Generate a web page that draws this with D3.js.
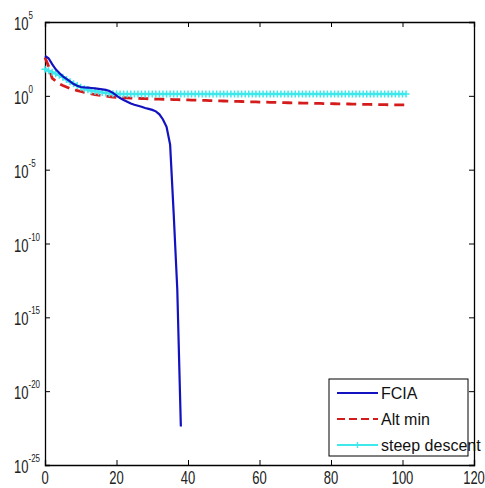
<!DOCTYPE html>
<html>
<head>
<meta charset="utf-8">
<script src="https://cdn.jsdelivr.net/npm/d3@7/dist/d3.min.js"></script>
<style>
  html, body { margin: 0; padding: 0; background: #fff; }
  svg { display: block; }
</style>
</head>
<body>
<svg id="chart" width="485" height="488"></svg>
<script>
// ---- data ----
const seriesNames = ["FCIA", "Alt min", "steep descent"];

const fciaValues = [
  5.0e2, 3.5e2, 1.4e2, 63, 35.5, 20.9, 14.1, 9.55, 6.31, 4.79,
  3.98, 3.72, 3.55, 3.39, 3.16, 2.95, 2.75, 2.51, 2.14, 1.58,
  1.05, 0.708, 0.525, 0.398, 0.302, 0.251, 0.214, 0.182, 0.151, 0.132,
  0.112, 0.0891, 0.0562, 0.0251, 0.0079, 5.0e-4, 1.0e-8, 7.9e-14, 4.0e-23
];

const altMinValues = [
  398, 100, 15.8, 10, 6.6, 5.0, 3.98, 3.16, 2.63, 2.29,
  2.0, 1.74, 1.51, 1.35, 1.2, 1.10, 1.02, 0.955, 0.891, 0.832,
  0.794, 0.759, 0.741, 0.724, 0.708, 0.692, 0.676, 0.661, 0.646, 0.631,
  0.617, 0.603, 0.600, 0.589, 0.575, 0.569, 0.562, 0.550, 0.543, 0.537,
  0.525, 0.517, 0.509, 0.501, 0.493, 0.485, 0.477, 0.469, 0.462, 0.454,
  0.447, 0.440, 0.433, 0.426, 0.419, 0.412, 0.405, 0.398, 0.392, 0.386,
  0.380, 0.375, 0.370, 0.365, 0.360, 0.355, 0.350, 0.345, 0.340, 0.336,
  0.331, 0.327, 0.323, 0.319, 0.315, 0.312, 0.308, 0.305, 0.301, 0.298,
  0.295, 0.292, 0.288, 0.285, 0.282, 0.279, 0.276, 0.273, 0.270, 0.266,
  0.263, 0.261, 0.258, 0.256, 0.254, 0.251, 0.249, 0.247, 0.245, 0.243,
  0.241, 0.240
];

const steepValues = [
  63.1, 50.1, 39.8, 31.6, 25.1, 17.8, 12.6, 8.91, 6.61, 5.01,
  3.80, 3.02, 2.57, 2.24, 2.04, 1.86, 1.70, 1.58, 1.48, 1.41,
  1.38, 1.35, 1.34, 1.33, 1.33, 1.32, 1.32, 1.32, 1.32, 1.32,
  1.32, 1.32, 1.32, 1.32, 1.32, 1.32, 1.32, 1.32, 1.32, 1.32,
  1.32, 1.32, 1.32, 1.32, 1.32, 1.32, 1.32, 1.32, 1.32, 1.32,
  1.32, 1.32, 1.32, 1.32, 1.32, 1.32, 1.32, 1.32, 1.32, 1.32,
  1.32, 1.32, 1.32, 1.32, 1.32, 1.32, 1.32, 1.32, 1.32, 1.32,
  1.32, 1.32, 1.32, 1.32, 1.32, 1.32, 1.32, 1.32, 1.32, 1.32,
  1.32, 1.32, 1.32, 1.32, 1.32, 1.32, 1.32, 1.32, 1.32, 1.32,
  1.32, 1.32, 1.32, 1.32, 1.32, 1.32, 1.32, 1.32, 1.32, 1.32,
  1.32, 1.32
];

const xTicks = [0, 20, 40, 60, 80, 100, 120];
const yTickExponents = [5, 0, -5, -10, -15, -20, -25];

// ---- layout ----
const svg = d3.select("#chart");
const L = 45, T = 22, R = 474, B = 465;
const x = d3.scaleLinear().domain([0, 120]).range([L, R]);
const y = d3.scaleLog().domain([1e-25, 1e5]).range([B, T]);

const colors = { fcia: "#1212c0", alt: "#d41c1c", steep: "#3ee8ec" };
const tickFont = "'Liberation Sans Narrow', 'Arial Narrow', 'Liberation Sans', Arial, sans-serif";

const xAxis = d3.axisBottom(x).tickValues(xTicks).tickSize(-5).tickFormat("");
const xAxisTop = d3.axisTop(x).tickValues(xTicks).tickSize(-5).tickFormat("");
const yTickVals = yTickExponents.map(e => Math.pow(10, e));
const yAxis = d3.axisLeft(y).tickValues(yTickVals).tickSize(-5).tickFormat("");
const yAxisRight = d3.axisRight(y).tickValues(yTickVals).tickSize(-5).tickFormat("");

function styleAxis(g) {
  g.selectAll("path.domain").attr("stroke", "#000").attr("stroke-width", 1.3);
  g.selectAll(".tick line").attr("stroke", "#000").attr("stroke-width", 1);
}
svg.append("g").attr("transform", `translate(0,${B})`).call(xAxis).call(styleAxis);
svg.append("g").attr("transform", `translate(0,${T})`).call(xAxisTop).call(styleAxis);
svg.append("g").attr("transform", `translate(${L},0)`).call(yAxis).call(styleAxis);
svg.append("g").attr("transform", `translate(${R},0)`).call(yAxisRight).call(styleAxis);

// x tick labels
svg.append("g").selectAll("text").data(xTicks).join("text")
  .attr("transform", d => `translate(${x(d)},483.5) scale(1,1.4)`)
  .attr("text-anchor", "middle")
  .attr("font-family", tickFont)
  .attr("font-size", 13)
  .attr("fill", "#222")
  .text(d => d);

// y tick labels 10^n
const yl = svg.append("g").selectAll("text").data(yTickExponents).join("text")
  .attr("transform", d => `translate(14,${y(Math.pow(10, d)) + 8}) scale(1,1.45)`)
  .attr("font-family", tickFont)
  .attr("font-size", 13)
  .attr("fill", "#222");
yl.append("tspan").text("10");
yl.append("tspan").attr("dy", -7.5).attr("font-size", 8).text(d => d);

// lines
const line = d3.line().x((d, i) => x(i)).y(d => y(d));

const plot = svg.append("g");
plot.append("path").datum(altMinValues)
  .attr("d", line).attr("fill", "none")
  .attr("stroke", colors.alt).attr("stroke-width", 2.8)
  .attr("stroke-dasharray", "10,6");

plot.append("path").datum(steepValues)
  .attr("d", line).attr("fill", "none")
  .attr("stroke", colors.steep).attr("stroke-width", 2.5);
plot.append("g").selectAll("path").data(steepValues).join("path")
  .attr("transform", (d, i) => `translate(${x(i)},${y(d)})`)
  .attr("d", "M-3.5,0H3.5M0,-3.5V3.5")
  .attr("stroke", colors.steep).attr("stroke-width", 1.5).attr("fill", "none");

plot.append("path").datum(fciaValues)
  .attr("d", line).attr("fill", "none")
  .attr("stroke", colors.fcia).attr("stroke-width", 2.2);

// legend
const lg = svg.append("g");
lg.append("rect").attr("x", 329).attr("y", 379).attr("width", 139).attr("height", 77)
  .attr("fill", "#fff").attr("stroke", "#000").attr("stroke-width", 1);
const legendItems = [
  { name: seriesNames[0], color: colors.fcia, dash: null, marker: false },
  { name: seriesNames[1], color: colors.alt, dash: "8,4", marker: false },
  { name: seriesNames[2], color: colors.steep, dash: null, marker: true }
];
const legendY = d3.scalePoint().domain(seriesNames).range([393, 445]);
legendItems.forEach(it => {
  const yy = legendY(it.name);
  lg.append("line").attr("x1", 337).attr("x2", 378).attr("y1", yy).attr("y2", yy)
    .attr("stroke", it.color).attr("stroke-width", 2)
    .attr("stroke-dasharray", it.dash);
  if (it.marker) {
    lg.append("path").attr("transform", `translate(357.5,${yy})`)
      .attr("d", "M-3,0H3M0,-3V3").attr("stroke", it.color).attr("stroke-width", 1.3);
  }
  lg.append("text").attr("x", 381).attr("y", yy + 6)
    .attr("font-family", tickFont).attr("font-size", 16).attr("fill", "#111")
    .text(it.name);
});
</script>
</body>
</html>
